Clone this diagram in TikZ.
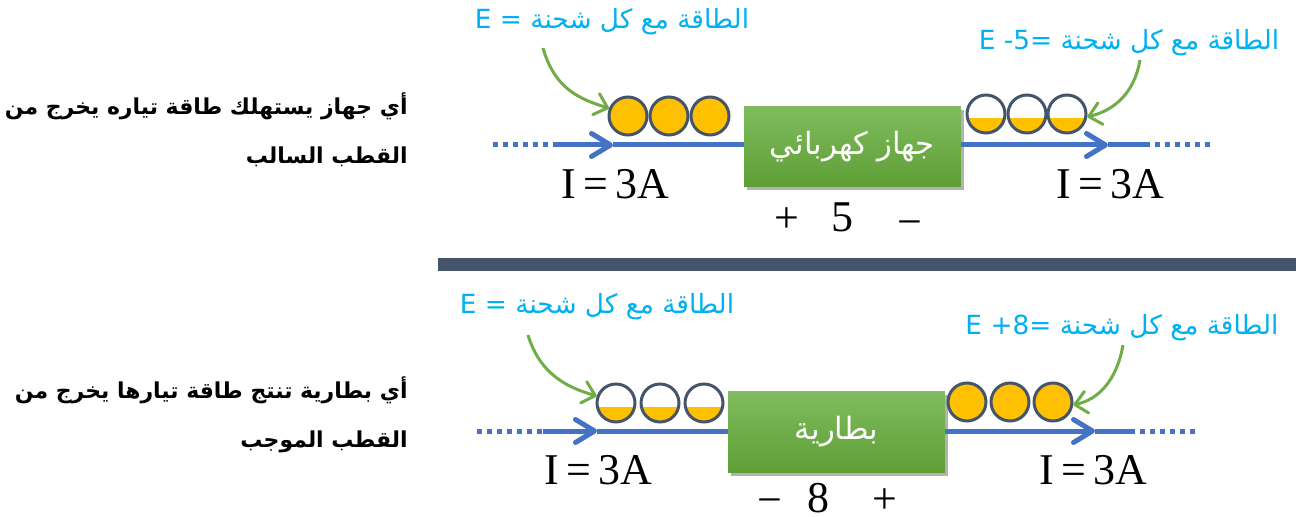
\documentclass[tikz,border=0pt]{standalone}
\usepackage{fontspec}
\setmainfont{Liberation Serif}
\newfontfamily\arabicfont[Script=Arabic]{DejaVu Sans}
\newfontfamily\latinfont{DejaVu Sans}
\TeXXeTstate=1
\usetikzlibrary{arrows.meta, shadows, calc}

\definecolor{flowblue}{HTML}{4472C4}
\definecolor{hintgreen}{HTML}{70AD47}
\definecolor{slate}{HTML}{44546A}
\definecolor{gold}{HTML}{FFC000}
\definecolor{sky}{HTML}{00B0F0}
\definecolor{boxtop}{HTML}{80BC5F}
\definecolor{boxbot}{HTML}{5E9E35}

\tikzset{
  wire/.style={flowblue, line width=0.1cm},
  wiredots/.style={flowblue, line width=0.1cm, dash pattern=on 0.1cm off 0.1cm},
  flowtip/.style={-{Straight Barb[length=0.38cm, width=0.46cm, round]}},
  charge/.style={circle, draw=slate, fill=gold, line width=0.06cm, minimum size=0.76cm, inner sep=0pt},
  halfcharge/.style={charge, fill=white, path picture={
      \fill[gold] ($(path picture bounding box.center)+(-25,4)$) rectangle ($(path picture bounding box.center)+(25,25)$);}},
  loadbox/.style={top color=boxtop, bottom color=boxbot, minimum width=4.34cm, minimum height=1.62cm,
      text=white, font=\arabicfont\fontsize{17.5}{20}\selectfont,
      drop shadow={shadow xshift=0.06cm, shadow yshift=-0.07cm, fill=black, opacity=0.3}},
  pointer/.style={hintgreen, line width=0.06cm, -{Straight Barb[length=0.24cm, width=0.44cm, round]}},
  energy/.style={text=sky, font=\fontsize{15}{18}\selectfont, inner sep=0pt},
  statement/.style={font=\arabicfont\bfseries\fontsize{12.5}{28}\selectfont, align=right, inner sep=0pt, anchor=east},
  amp/.style={font=\fontsize{25}{28}\selectfont, inner sep=0pt, anchor=base},
}

\begin{document}
\begin{tikzpicture}[x=0.02cm, y=-0.02cm]
  \useasboundingbox (0,0) rectangle (1296,517);

  % upper half: device
  \node[statement] (qtop) at (408,130) {\beginR أي جهاز  يستهلك طاقة تياره يخرج من\endR\\\beginR القطب السالب\endR};

  \node[loadbox] (dev) at (852.5,146.5) {\beginR جهاز كهربائي\endR};

  \coordinate (tl0) at (493,145);
  \coordinate (tl1) at (557,145);
  \coordinate (tl2) at (613,145);
  \coordinate (tr1) at (1108,145);
  \coordinate (tr2) at (1145,145);
  \coordinate (tr3) at (1212,145);
  \draw[wiredots] (tl0) -- (tl1);
  \draw[wire, flowtip] (tl1) -- (tl2);
  \draw[wire] (tl2) -- (tl2 -| dev.west);
  \draw[wire, flowtip] (tr1 -| dev.east) -- (tr1);
  \draw[wire] (tr1) -- (tr2);
  \draw[wiredots] (tr2) -- (tr3);

  \foreach \cx/\n in {628/1, 669/2, 710/3}
    \node[charge] (tq\n) at (\cx,116) {};
  \foreach \cx/\n in {986/1, 1027/2, 1067/3}
    \node[halfcharge] (rq\n) at (\cx,114) {};

  \node[energy] (etl) at (612,22) {\latinfont E = {\arabicfont\beginR الطاقة مع كل شحنة\endR}};
  \node[energy] (etr) at (1129,43) {\latinfont E -5= {\arabicfont\beginR الطاقة مع كل شحنة\endR}};
  \coordinate (ptl) at (543,48);
  \coordinate (ptr) at (1140,60);
  \draw[pointer] (ptl) .. controls +(12,42) and +(-28,-9) .. (tq1.158);
  \draw[pointer] (ptr) .. controls +(-6,35) and +(25,-6) .. (rq3.-8);

  \node[amp] (itl) at (615,198) {I\,=\,3A};
  \node[amp] (itr) at (1110,198) {I\,=\,3A};
  \node[amp] (pp1) at (787,233) {+};
  \node[amp] (pv1) at (842,232) {5};
  \node[amp] (pm1) at (910,236) {−};

  % separator
  \fill[slate] (438,258) rectangle (1296,271);

  % lower half: battery
  \node[statement] (qbot) at (408,415) {\beginR أي بطارية تنتج طاقة تيارها يخرج من\endR\\\beginR القطب الموجب\endR};

  \node[loadbox] (bat) at (836.5,432) {\beginR بطارية\endR};

  \coordinate (bl0) at (477,431);
  \coordinate (bl1) at (543,431);
  \coordinate (bl2) at (597,431);
  \coordinate (br1) at (1095,431);
  \coordinate (br2) at (1130,431);
  \coordinate (br3) at (1198,431);
  \draw[wiredots] (bl0) -- (bl1);
  \draw[wire, flowtip] (bl1) -- (bl2);
  \draw[wire] (bl2) -- (bl2 -| bat.west);
  \draw[wire, flowtip] (br1 -| bat.east) -- (br1);
  \draw[wire] (br1) -- (br2);
  \draw[wiredots] (br2) -- (br3);

  \foreach \cx/\n in {616/1, 660/2, 704/3}
    \node[halfcharge] (lq\n) at (\cx,403) {};
  \foreach \cx/\n in {967/1, 1010/2, 1053/3}
    \node[charge] (bq\n) at (\cx,402) {};

  \node[energy] (ebl) at (597,307) {\latinfont E = {\arabicfont\beginR الطاقة مع كل شحنة\endR}};
  \node[energy] (ebr) at (1122,328) {\latinfont E +8= {\arabicfont\beginR الطاقة مع كل شحنة\endR}};
  \coordinate (pbl) at (528,335);
  \coordinate (pbr) at (1123,345);
  \draw[pointer] (pbl) .. controls +(12,40) and +(-28,-8) .. (lq1.160);
  \draw[pointer] (pbr) .. controls +(-6,35) and +(25,-5) .. (bq3.-8);

  \node[amp] (ibl) at (598,484) {I\,=\,3A};
  \node[amp] (ibr) at (1093,484) {I\,=\,3A};
  \node[amp] (pm2) at (770,514) {−};
  \node[amp] (pv2) at (818,512) {8};
  \node[amp] (pp2) at (885,513) {+};
\end{tikzpicture}
\end{document}
